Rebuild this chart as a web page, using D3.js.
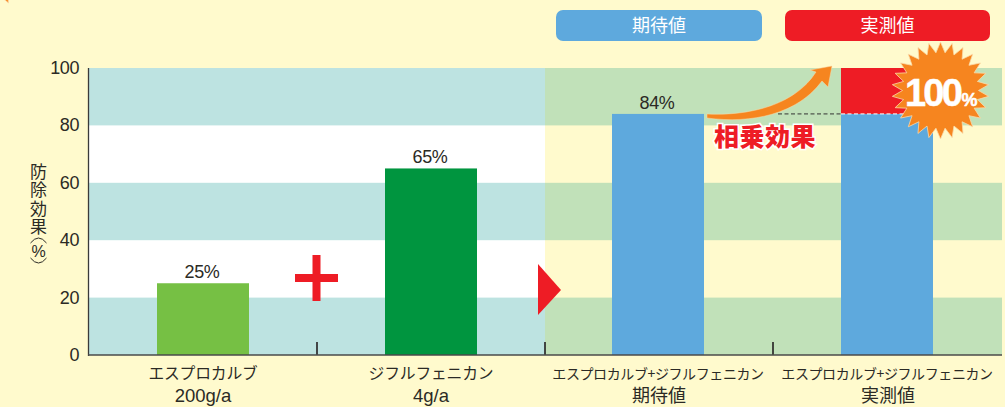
<!DOCTYPE html>
<html><head><meta charset="utf-8">
<style>html,body{margin:0;padding:0;background:#fffacd;overflow:hidden}svg{display:block}
text{font-family:"Liberation Sans","Noto Sans CJK JP",sans-serif;fill:#2b2a25}
.jp{font-family:"Noto Sans CJK JP",sans-serif;font-weight:400}</style>
<script src="https://cdn.jsdelivr.net/npm/d3@7/dist/d3.min.js"></script>
</head><body><svg id="c" width="1005" height="407"></svg>
<script>
const categories = ["a","b","c","d"];
const categoryLine1 = ["エスプロカルブ","ジフルフェニカン","エスプロカルブ+ジフルフェニカン","エスプロカルブ+ジフルフェニカン"];
const categoryLine2 = ["200g/a","4g/a","期待値","実測値"];
const values = [25,65,84,84];
const valueLabels = ["25%","65%","84%",""];
const barColors = ["#76c044","#00953f","#5ea9dd","#5ea9dd"];
const synergyValue = [84,100];
const yTicks = [0,20,40,60,80,100];
const bandsLow = [[0,20],[40,60],[80,100]];

const svg = d3.select("#c");
const W=1005,H=407;
const x = d3.scaleBand().domain(categories).range([89,1001]).padding(0);
const y = d3.scaleLinear().domain([0,100]).range([355,68]);
const barW = 92;
const cx = d => x(d)+x.bandwidth()/2-(d==="c"?1:0);
const split = x("c");

svg.append("rect").attr("width",W).attr("height",H).attr("fill","#fffacd");
svg.append("rect").attr("x",89).attr("y",y(100)).attr("width",split-89).attr("height",y(0)-y(100)).attr("fill","#ffffff");
bandsLow.forEach(b=>{
  svg.append("rect").attr("x",89).attr("y",y(b[1])).attr("width",split-89).attr("height",y(b[0])-y(b[1])).attr("fill","#bde3e1");
  svg.append("rect").attr("x",split).attr("y",y(b[1])).attr("width",1002-split).attr("height",y(b[0])-y(b[1])).attr("fill","#c1e1b9");
});
svg.selectAll(".bar").data(categories).join("rect")
  .attr("x",d=>cx(d)-barW/2).attr("width",barW)
  .attr("y",(d,i)=>y(values[i])).attr("height",(d,i)=>y(0)-y(values[i]))
  .attr("fill",(d,i)=>barColors[i]);
svg.append("rect").attr("x",cx("d")-barW/2).attr("width",barW)
  .attr("y",y(synergyValue[1])).attr("height",y(synergyValue[0])-y(synergyValue[1])).attr("fill","#ee1c25");
const yd=y(84);
svg.append("line").attr("x1",778).attr("x2",cx("d")-barW/2).attr("y1",yd).attr("y2",yd).attr("stroke","#333").attr("stroke-width",1).attr("stroke-dasharray","4 2.5");
svg.append("line").attr("x1",cx("d")-barW/2).attr("x2",cx("d")+barW/2).attr("y1",yd).attr("y2",yd).attr("stroke","#fff").attr("stroke-width",1).attr("stroke-dasharray","4 2.5");
const axisG=svg.append("g");
axisG.append("line").attr("x1",88.5).attr("x2",88.5).attr("y1",68).attr("y2",356).attr("stroke","#3a3a3a").attr("stroke-width",1.3);
axisG.append("line").attr("x1",88).attr("x2",1002).attr("y1",355).attr("y2",355).attr("stroke","#4a4a4a").attr("stroke-width",1.3);
categories.slice(1).forEach(d=>{
  axisG.append("line").attr("x1",x(d)).attr("x2",x(d)).attr("y1",342).attr("y2",354.5).attr("stroke","#231f20").attr("stroke-width",1.6);
});
svg.selectAll(".yt").data(yTicks).join("text").attr("x",79).attr("y",d=>y(d)+6).attr("text-anchor","end")
  .attr("font-size",18).attr("letter-spacing",-0.4).text(d=>d);
svg.append("text").attr("class","jp").attr("x",38.5).attr("y",163).attr("font-size",17)
  .attr("letter-spacing",1.3).style("writing-mode","vertical-rl").style("dominant-baseline","central").text("防除効果");
svg.append("path").attr("d","M30.5,243 Q38.5,233 46.5,243").attr("fill","none").attr("stroke","#2b2a25").attr("stroke-width",1);
svg.append("text").attr("x",38.5).attr("y",257).attr("text-anchor","middle").attr("font-size",16).text("%");
svg.append("path").attr("d","M30.5,258 Q38.5,268 46.5,258").attr("fill","none").attr("stroke","#2b2a25").attr("stroke-width",1);
svg.selectAll(".vl").data(categories).join("text").attr("x",d=>cx(d)-1).attr("y",(d,i)=>y(values[i])-5)
  .attr("text-anchor","middle").attr("font-size",18).attr("letter-spacing",-0.3).text((d,i)=>valueLabels[i]);
svg.selectAll(".c1").data(categories).join("text").attr("class","jp")
  .attr("x",d=>cx(d)).attr("y",379).attr("text-anchor","middle")
  .attr("font-size",(d,i)=>i<2?15.8:14).attr("letter-spacing",(d,i)=>i<2?-0.2:-0.4).text((d,i)=>categoryLine1[i]);
svg.selectAll(".c2").data(categories).join("text")
  .attr("x",(d,i)=>cx(d)+(i<2?0:1)).attr("y",402).attr("text-anchor","middle")
  .attr("font-size",(d,i)=>i<2?18.5:18).text((d,i)=>categoryLine2[i]);
[[556,206,"#5ea9dd","期待値"],[785,205,"#ee1c25","実測値"]].forEach(p=>{
  svg.append("rect").attr("x",p[0]).attr("y",10).attr("width",p[1]).attr("height",31).attr("rx",7).attr("fill",p[2]);
  svg.append("text").attr("class","jp").attr("x",p[0]+p[1]/2).attr("y",32).attr("text-anchor","middle").attr("font-size",18).style("fill","#fff").text(p[3]);
});
svg.append("rect").attr("x",295).attr("y",274).attr("width",43).attr("height",8).attr("fill","#ee1c25");
svg.append("rect").attr("x",312.5).attr("y",255).attr("width",8).attr("height",46).attr("fill","#ee1c25");
svg.append("path").attr("d","M538,264L561,290L538,315Z").attr("fill","#ee1c25");
svg.append("path").attr("d","M707,114 C750,116 795,105 816,72 L810,70 L832,66 L828,87 L822,81 C798,114 752,124 707,118 Z")
  .attr("fill","#f6851f").attr("stroke","#fbd9a8").attr("stroke-width",0.5);
svg.append("text").attr("class","jp").attr("x",765).attr("y",146).attr("text-anchor","middle").attr("font-size",25).style("font-weight",900)
  .attr("letter-spacing",0.5).style("fill","#ee1c25").style("stroke","#fff").style("stroke-width",3).style("paint-order","stroke").text("相乗効果");
function burst(cx0,cy0,R,r,n){
  const pts=[];for(let i=0;i<n*2;i++){const a=Math.PI*i/n-Math.PI/2;const q=i%2?r:R;pts.push([cx0+q*Math.cos(a),cy0+q*Math.sin(a)]);}
  return "M"+pts.map(p=>p.join(",")).join("L")+"Z";
}
svg.append("path").attr("d",burst(940.5,90.5,48.5,38,26)).attr("fill","#f6851f").attr("stroke","#fbd9a8").attr("stroke-width",0.8);
svg.append("path").attr("d",burst(-14,-40,48.5,38,26)).attr("fill","#f6851f").attr("stroke","#fbd9a8").attr("stroke-width",0.8);
const t=svg.append("text").attr("x",905).attr("y",106).style("fill","#fff").style("stroke","#fff").style("stroke-width",0.5).attr("font-weight",700).attr("font-size",38).attr("letter-spacing",-2.8);
t.append("tspan").text("100");
t.append("tspan").attr("font-size",18).attr("dx",1.5).attr("letter-spacing",0).text("%");
</script></body></html>
